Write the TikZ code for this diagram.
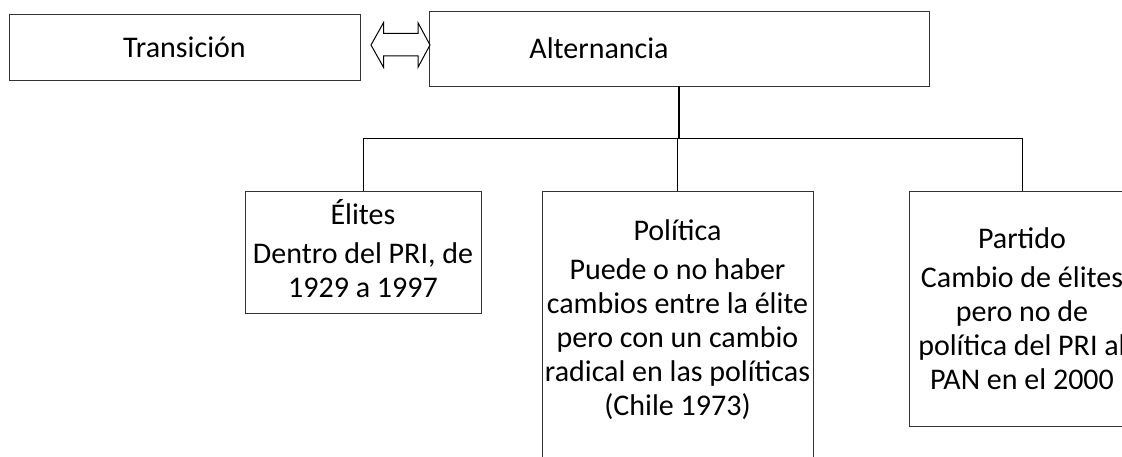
\documentclass[tikz,border=0pt]{standalone}
\usepackage{fontspec}
\setmainfont{Carlito}
\usetikzlibrary{positioning}

\newcommand{\boxfont}{\fontsize{30}{34}\selectfont}
\newcommand{\bajo}[1]{\rule[-#1]{0pt}{#1}}
\tikzset{cajon/.style={draw=black!80,line width=0.9pt,rectangle,align=center,inner sep=0pt},
         linea/.style={draw=black,line width=0.9pt},
         hueca/.style={draw=black,line width=1pt,fill=white,line join=miter}}

\begin{document}
\begin{tikzpicture}[x=1pt,y=-1pt,font=\boxfont]
                  \useasboundingbox (0,0) rectangle (1122,457);
                  \clip (0,0) rectangle (1122,457);
                  \node[cajon,minimum width=351,minimum height=66] (trans) at (184.5,47) {Transición};
                  \node[cajon,minimum width=500,minimum height=75,label={[xshift=-80pt]center:Alternancia}] (alt) at (679,48.5) {};
                  \node[cajon,minimum width=236,minimum height=122] (elites) at (363,252) {Élites\\[5pt]Dentro del PRI, de\\1929 a 1997\bajo{8pt}};
                  \node[cajon,minimum width=271,minimum height=278] (pol) at (677.5,330) {Política\\[5pt]Puede o no haber\\cambios entre la élite\\pero con un cambio\\radical en las políticas\\(Chile 1973)\bajo{24pt}};
                  \node[cajon,minimum width=226,minimum height=235] (part) at (1022,308.5) {Partido\\[5pt]Cambio de élites\\pero no de\\política del PRI al\\PAN en el 2000};
                  \coordinate (bus) at (0,138);
                  \draw[linea,line width=1.4pt] (alt.south) -- (alt.south |- bus);
                  \draw[linea] (elites.north) -- (elites.north |- bus) -- (part.north |- bus) -- (part.north);
                  \draw[linea] (pol.north) -- (pol.north |- bus);
                  \draw[hueca] (371,45) -- (383.5,22.7) -- (383.5,33.3) -- (418,33.3) -- (418,22.7) -- (430,45)
                        -- (418,67.3) -- (418,56) -- (383.5,56) -- (383.5,67.3) -- cycle;
              \end{tikzpicture}
\end{document}
